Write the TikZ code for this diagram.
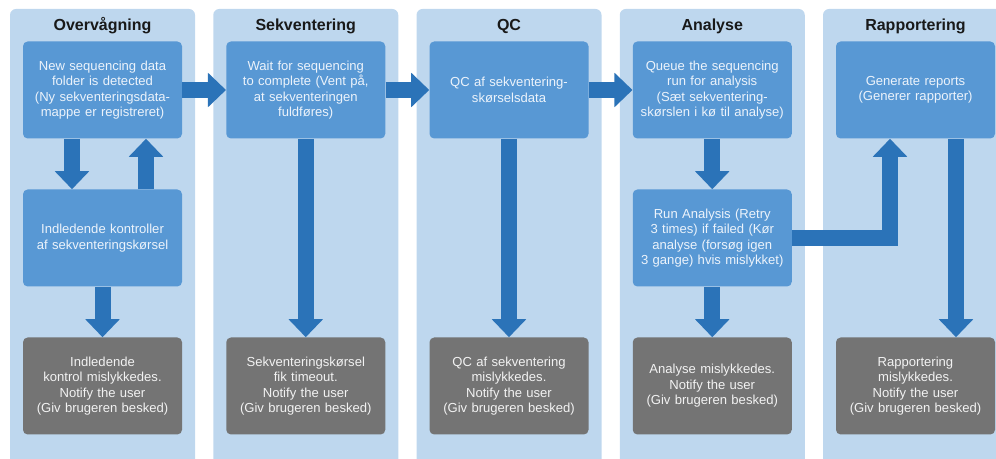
\documentclass[tikz,border=0pt]{standalone}
\usepackage{fontspec}
\setmainfont{Liberation Sans}
\usetikzlibrary{arrows.meta,calc}
\definecolor{panelblue}{RGB}{190,215,238}
\definecolor{boxblue}{RGB}{88,152,212}
\definecolor{arrowblue}{RGB}{43,115,184}
\definecolor{failgray}{RGB}{116,116,116}
\definecolor{boxtext}{RGB}{236,243,251}
\tikzset{
  panel/.style={fill=panelblue,rounded corners=4.5pt},
  header/.style={font=\bfseries\fontsize{12}{14}\selectfont,text=black!90},
  stepbox/.style={fill=boxblue,rounded corners=3.5pt,minimum width=119.25pt,minimum height=72.75pt,inner sep=0pt,text width=116pt,align=center,text=boxtext,font=\fontsize{9.8}{11.6}\selectfont},
  failbox/.style={stepbox,fill=failgray,text=white!95!black},
  flow/.style={draw=arrowblue,line width=12pt,-{Triangle[length=13.5pt,width=25pt]}}
}
\begin{document}
\begin{tikzpicture}[x=0.75pt,y=-0.75pt]
  \pgfmathsetmacro{\colw}{203.25};
  \pgfmathsetmacro{\colx}{102.5};
  \useasboundingbox (0,0) rectangle (996,459);
  \clip (0,0) rectangle (996,459);
  \foreach \name [count=\i from 0] in {Overvågning,Sekventering,QC,Analyse,Rapportering} {
    \fill[panel] ({\colx+\i*\colw-92.5},9) rectangle ({\colx+\i*\colw+92.5},480);
    \node[header] (head\i) at ({\colx+\i*\colw},26) {\name};
  }
  \node[stepbox] (new) at (\colx,90) {New sequencing data\\folder is detected\\(Ny sekventeringsdata-\\mappe er registreret)};
  \node[stepbox] (init) at (\colx,238) {Indledende kontroller\\af sekventeringskørsel};
  \node[failbox] (initfail) at (\colx,386) {Indledende\\kontrol mislykkedes.\\Notify the user\\(Giv brugeren besked)};
  \node[stepbox] (wait) at ({\colx+\colw},90) {Wait for sequencing\\to complete (Vent på,\\at sekventeringen\\fuldføres)};
  \node[failbox] (waitfail) at ({\colx+\colw},386) {Sekventeringskørsel\\fik timeout.\\Notify the user\\(Giv brugeren besked)};
  \node[stepbox] (qcrun) at ({\colx+2*\colw},90) {QC af sekventering-\\skørselsdata};
  \node[failbox] (qcfail) at ({\colx+2*\colw},386) {QC af sekventering\\mislykkedes.\\Notify the user\\(Giv brugeren besked)};
  \node[stepbox] (queue) at ({\colx+3*\colw},90) {Queue the sequencing\\run for analysis\\(Sæt sekventering-\\skørslen i kø til analyse)};
  \node[stepbox] (run) at ({\colx+3*\colw},238) {Run Analysis (Retry\\3 times) if failed (Kør\\analyse (forsøg igen\\3 gange) hvis mislykket)};
  \node[failbox] (runfail) at ({\colx+3*\colw},386) {Analyse mislykkedes.\\Notify the user\\(Giv brugeren besked)};
  \node[stepbox] (report) at ({\colx+4*\colw},90) {Generate reports\\(Generer rapporter)};
  \node[failbox] (reportfail) at ({\colx+4*\colw},386) {Rapportering\\mislykkedes.\\Notify the user\\(Giv brugeren besked)};
  \draw[flow] (new) -- (wait);
  \draw[flow] (wait) -- (qcrun);
  \draw[flow] (qcrun) -- (queue);
  \draw[flow] ($(new.south)+(-30.5,0)$) -- ($(init.north)+(-30.5,0)$);
  \draw[flow] ($(init.north)+(43.5,0)$) -- ($(new.south)+(43.5,0)$);
  \draw[flow] (init) -- (initfail);
  \draw[flow] (wait) -- (waitfail);
  \draw[flow] (qcrun) -- (qcfail);
  \draw[flow] (queue) -- (run);
  \draw[flow] (run) -- (runfail);
  \draw[flow] (run.east) -| ($(report.south)+(-25.5,0)$);
  \draw[flow] ($(report.south)+(40.5,0)$) -- ($(reportfail.north)+(40.5,0)$);
\end{tikzpicture}
\end{document}
